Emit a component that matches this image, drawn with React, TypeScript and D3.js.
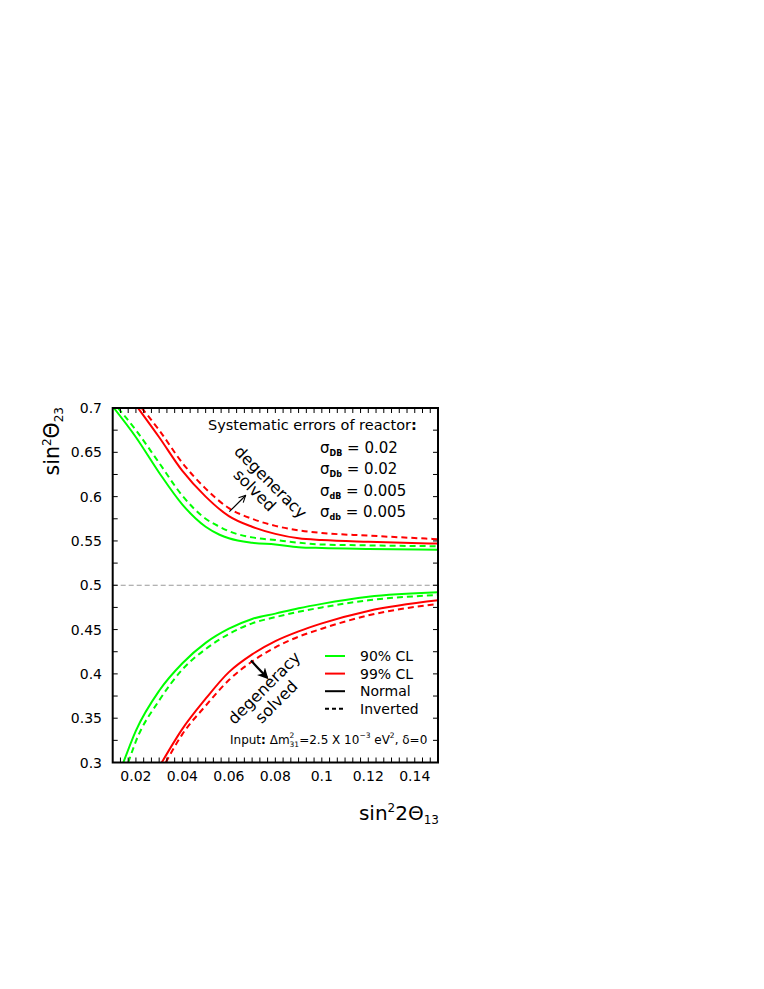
import React from 'react';
import * as d3 from 'd3';

// sin^2 2theta13 vs sin^2 theta23 contours
const green90NormalUp = [[0.0105, 0.7], [0.02, 0.667], [0.03, 0.627], [0.04, 0.591], [0.05, 0.566], [0.056, 0.557], [0.06, 0.553], [0.07, 0.548], [0.08, 0.546], [0.09, 0.543], [0.1, 0.542], [0.12, 0.541], [0.15, 0.54]];
const green90InvertedUp = [[0.0123, 0.7], [0.02, 0.675], [0.03, 0.638], [0.04, 0.601], [0.05, 0.575], [0.056, 0.566], [0.06, 0.561], [0.07, 0.554], [0.08, 0.551], [0.09, 0.548], [0.1, 0.546], [0.12, 0.545], [0.15, 0.544]];
const red99NormalUp = [[0.0209, 0.7], [0.03, 0.667], [0.04, 0.629], [0.05, 0.6], [0.06, 0.578], [0.07, 0.566], [0.08, 0.558], [0.09, 0.553], [0.1, 0.551], [0.12, 0.549], [0.15, 0.547]];
const red99InvertedUp = [[0.0225, 0.7], [0.03, 0.675], [0.04, 0.638], [0.05, 0.609], [0.06, 0.587], [0.07, 0.575], [0.08, 0.567], [0.09, 0.562], [0.1, 0.559], [0.12, 0.556], [0.15, 0.552]];

const green90NormalLow = [[0.0146, 0.3], [0.02, 0.336], [0.03, 0.381], [0.04, 0.412], [0.05, 0.435], [0.06, 0.451], [0.07, 0.462], [0.08, 0.468], [0.09, 0.474], [0.1, 0.479], [0.12, 0.487], [0.15, 0.492]];
const green90InvertedLow = [[0.0167, 0.3], [0.02, 0.324], [0.03, 0.37], [0.04, 0.405], [0.05, 0.428], [0.06, 0.445], [0.07, 0.457], [0.08, 0.464], [0.09, 0.47], [0.1, 0.475], [0.12, 0.483], [0.15, 0.489]];
const red99NormalLow = [[0.0311, 0.3], [0.04, 0.338], [0.05, 0.372], [0.06, 0.402], [0.07, 0.422], [0.08, 0.437], [0.09, 0.448], [0.1, 0.457], [0.12, 0.471], [0.15, 0.483]];
const red99InvertedLow = [[0.0328, 0.3], [0.04, 0.332], [0.05, 0.364], [0.06, 0.393], [0.07, 0.414], [0.08, 0.43], [0.09, 0.442], [0.1, 0.451], [0.12, 0.466], [0.15, 0.479]];

const xTickLabels = [0.02, 0.04, 0.06, 0.08, 0.1, 0.12, 0.14];
const yTickLabels = [0.3, 0.35, 0.4, 0.45, 0.5, 0.55, 0.6, 0.65, 0.7];

const sigmaLabels = [['DB', '0.02'], ['Db', '0.02'], ['dB', '0.005'], ['db', '0.005']];
const legendRows = [['#00ff00', null, '90% CL'], ['#ff0000', null, '99% CL'], ['#000', null, 'Normal'], ['#000', '4,3', 'Inverted']];

const GREEN = '#00ff00';
const RED = '#ff0000';
const FONT = '"DejaVu Sans", sans-serif';

export default function App() {
  const left = 112.7, right = 438, top = 408, bottom = 762.5;
  const x = d3.scaleLinear().domain([0.01, 0.15]).range([left, right]);
  const y = d3.scaleLinear().domain([0.3, 0.7]).range([bottom, top]);
  const line = d3.line<number[]>().x(d => x(d[0])).y(d => y(d[1])).curve(d3.curveMonotoneX);

  const xStep = 0.02 / 6;
  const xMinor = d3.range(-3, 40).map(k => 0.02 + k * xStep).filter(v => v >= 0.0101 && v <= 0.1499);
  const yMinor = d3.range(1, 16).map(k => 0.3 + k * 0.025);

  const curves = [
    [green90NormalUp, GREEN, null], [green90InvertedUp, GREEN, '6,4'],
    [red99NormalUp, RED, null], [red99InvertedUp, RED, '6,4'],
    [green90NormalLow, GREEN, null], [green90InvertedLow, GREEN, '6,4'],
    [red99NormalLow, RED, null], [red99InvertedLow, RED, '6,4'],
  ] as [number[][], string, string | null][];

  const rot = (px: number, py: number, a: number) => `translate(${px},${py}) rotate(${a})`;

  return (
    <svg width={764} height={989} style={{ position: 'absolute', left: 0, top: 0, background: '#fff' }}
      fontFamily={FONT}>
      <defs>
        <clipPath id="plot"><rect x={left} y={top} width={right - left} height={bottom - top} /></clipPath>
        <marker id="openHead" viewBox="0 0 10 10" refX="9" refY="5" markerWidth="7" markerHeight="7" orient="auto">
          <path d="M1,1 L9,5 L1,9" fill="none" stroke="#000" strokeWidth="1.3" />
        </marker>
        <marker id="boldHead" viewBox="0 0 10 10" refX="8" refY="5" markerWidth="5" markerHeight="5" orient="auto">
          <path d="M0,0 L10,5 L0,10 L3,5 Z" fill="#000" />
        </marker>
      </defs>

      {/* reference line at maximal mixing */}
      <line x1={left} x2={right} y1={y(0.5)} y2={y(0.5)} stroke="#999" strokeWidth={1} strokeDasharray="5,3" />

      <g clipPath="url(#plot)">
        {curves.map(([pts, c, dash], i) => (
          <path key={i} d={line(pts) || ''} fill="none" stroke={c} strokeWidth={2}
            strokeDasharray={dash || undefined} />
        ))}
      </g>

      {/* ticks */}
      {xMinor.map((v, i) => (
        <g key={'xt' + i}>
          <line x1={x(v)} x2={x(v)} y1={bottom} y2={bottom - 5} stroke="#000" strokeWidth={1} />
          <line x1={x(v)} x2={x(v)} y1={top} y2={top + 5} stroke="#000" strokeWidth={1} />
        </g>
      ))}
      {yMinor.map((v, i) => (
        <g key={'yt' + i}>
          <line x1={left} x2={left + 5} y1={y(v)} y2={y(v)} stroke="#000" strokeWidth={1} />
          <line x1={right} x2={right - 5} y1={y(v)} y2={y(v)} stroke="#000" strokeWidth={1} />
        </g>
      ))}
      <rect x={left} y={top} width={right - left} height={bottom - top} fill="none" stroke="#000" strokeWidth={2} />

      {xTickLabels.map(v => (
        <text key={'xl' + v} x={x(v)} y={781} fontSize={14} textAnchor="middle">{String(v)}</text>
      ))}
      {yTickLabels.map(v => (
        <text key={'yl' + v} x={102} y={y(v) + 5} fontSize={14} textAnchor="end">{String(v)}</text>
      ))}

      {/* axis titles */}
      <text x={439} y={820} fontSize={20} textAnchor="end">
        sin<tspan dy={-8} fontSize={12}>2</tspan><tspan dy={8}>2Θ</tspan><tspan dy={4} fontSize={12}>13</tspan>
      </text>
      <text transform={rot(59, 407, -90)} fontSize={20.5} textAnchor="end">
        sin<tspan dy={-8} fontSize={12}>2</tspan><tspan dy={8}>Θ</tspan><tspan dy={4} fontSize={12}>23</tspan>
      </text>

      {/* systematic errors box text */}
      <text x={208} y={430} fontSize={14.5}>Systematic errors of reactor<tspan fontWeight="bold">:</tspan></text>
      {sigmaLabels.map(([sub, val], i) => (
        <text key={'sg' + i} x={320} y={453 + i * 21.3} fontSize={15}>
          σ<tspan dy={3} fontSize={8} fontWeight="bold">{sub}</tspan><tspan dy={-3}> = {val}</tspan>
        </text>
      ))}

      {/* degeneracy annotations */}
      <text transform={rot(x(0.0777), y(0.6155), 45)} fontSize={16} textAnchor="middle" dominantBaseline="middle">degeneracy</text>
      <text transform={rot(x(0.0708), y(0.6065), 45)} fontSize={16} textAnchor="middle" dominantBaseline="middle">solved</text>
      <line x1={x(0.0602)} y1={y(0.583)} x2={x(0.0672)} y2={y(0.6013)} stroke="#000" strokeWidth={1.2} markerEnd="url(#openHead)" />

      <text transform={rot(x(0.0755), y(0.3834), -45)} fontSize={16} textAnchor="middle" dominantBaseline="middle">degeneracy</text>
      <text transform={rot(x(0.0807), y(0.3676), -45)} fontSize={16} textAnchor="middle" dominantBaseline="middle">solved</text>
      <line x1={x(0.0695)} y1={y(0.415)} x2={x(0.0764)} y2={y(0.3958)} stroke="#000" strokeWidth={2.2} markerEnd="url(#boldHead)" />

      {/* legend */}
      {legendRows.map(([c, dash, label], i) => (
        <g key={'lg' + i}>
          <line x1={325} x2={345} y1={656 + i * 17.6} y2={656 + i * 17.6} stroke={c as string} strokeWidth={2}
            strokeDasharray={(dash as string) || undefined} />
          <text x={360} y={661 + i * 17.6} fontSize={14}>{label}</text>
        </g>
      ))}

      <text x={230} y={744} fontSize={12}>
        Input<tspan fontWeight="bold">:</tspan> Δm<tspan dy={-6} fontSize={7.5}>2</tspan><tspan dx={-4.8} dy={9} fontSize={7.5}>31</tspan><tspan dy={-3}>=2.5 X 10</tspan><tspan dy={-6} fontSize={7.5}>−3</tspan><tspan dy={6}> eV</tspan><tspan dy={-6} fontSize={7.5}>2</tspan><tspan dy={6}>, δ=0</tspan>
      </text>
    </svg>
  );
}
